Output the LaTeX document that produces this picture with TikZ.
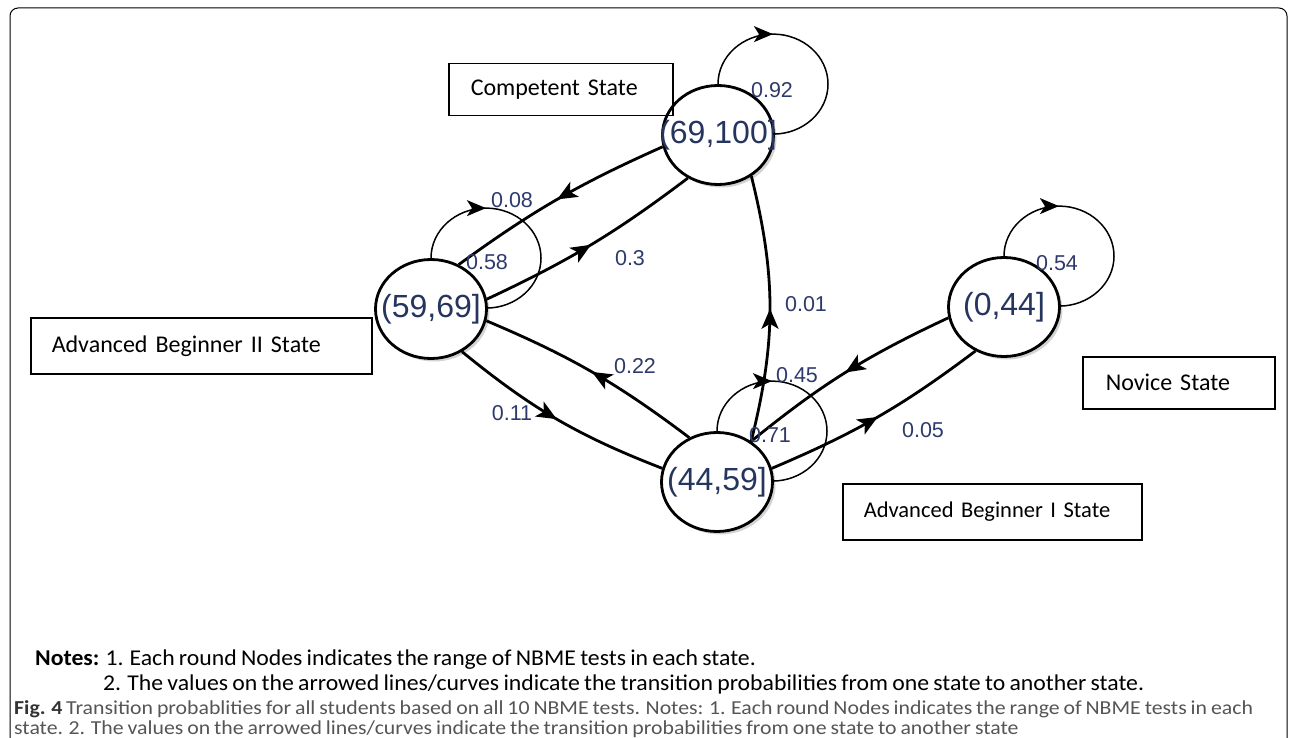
\documentclass[tikz,border=0pt]{standalone}
\usepackage{fontspec}
\setmainfont{Carlito}[WordSpace=0.8]
\newfontfamily\capfont{Carlito}[FakeStretch=1.1, WordSpace=0.8]
\newfontfamily\notefont{Carlito}[FakeStretch=1.05, WordSpace=0.8]
\newfontfamily\arialf{Liberation Sans}
\usetikzlibrary{arrows.meta,decorations.markings,shapes.geometric,shadows}
\definecolor{numblue}{HTML}{25355E}
\definecolor{lblblue}{HTML}{2E3A6C}
\definecolor{capgray}{HTML}{555555}
\begin{document}
\begin{tikzpicture}[x=1pt,y=1pt,
  statenode/.style={ellipse, draw=black, line width=2.8pt, fill=white, inner sep=0pt,
    minimum width=111pt, minimum height=99pt,
    font=\arialf\fontsize{32}{32}\selectfont, text=numblue,
    drop shadow={shadow xshift=3pt, shadow yshift=-3pt, opacity=0.35, fill=gray}},
  statebox/.style={rectangle, draw=black, line width=1.5pt, align=left, anchor=north west,
    inner ysep=0pt, font=\fontsize{24}{28}\selectfont},
  elabel/.style={font=\arialf\fontsize{21.5}{21.5}\selectfont, text=lblblue, inner sep=0pt},
  edgeline/.style={line width=2.8pt, postaction={decorate},
    decoration={markings, mark=at position 0.5 with {\arrow{Stealth[length=20pt,width=17pt,inset=5pt]}}}},
  loopline/.style={line width=1.5pt, postaction={decorate},
    decoration={markings, mark=at position 0.333 with {\arrow{Stealth[length=19pt,width=16pt,inset=5pt]}}}},
  notetext/.style={anchor=base west, inner sep=0pt, font=\notefont\fontsize{22.6}{22.6}\selectfont},
  captext/.style={anchor=base west, inner sep=0pt, text=capgray, font=\capfont\fontsize{19.8}{19.8}\selectfont}
]
\useasboundingbox (0,0) rectangle (1290,-738);
\draw[line width=1pt, rounded corners=8pt] (10,-745) -- (10,-8) -- (1287,-8) -- (1287,-745);

% state nodes
\node[statenode] (c)  at (718,-135) {\makebox[0pt]{(69,100]}};
\node[statenode] (a2) at (431,-309) {\makebox[0pt]{(59,69]}};
\node[statenode] (a1) at (717,-482) {\makebox[0pt]{(44,59]}};
\node[statenode] (nv) at (1004,-307) {\makebox[0pt]{(0,44]}};

% self loops
\draw[loopline] (c.north)  arc[start angle=180, end angle=-90, x radius=55, y radius=50];
\draw[loopline] (a2.north) arc[start angle=180, end angle=-90, x radius=55, y radius=50];
\draw[loopline] (a1.north) arc[start angle=180, end angle=-90, x radius=55, y radius=50];
\draw[loopline] (nv.north) arc[start angle=180, end angle=-90, x radius=55, y radius=50];

% transitions
\draw[edgeline] (c.192)  to[bend right=6]  (a2.58);
\draw[edgeline] (a2.10)  to[bend right=6]  (c.235);
\draw[edgeline] (a1.50)  to[bend right=14] (c.309);
\draw[edgeline] (a1.122) to[bend right=7]  (a2.348);
\draw[edgeline] (a2.306) to[bend right=9]  (a1.166);
\draw[edgeline] (nv.191) to[bend right=7]  (a1.50);
\draw[edgeline] (a1.14)  to[bend right=7]  (nv.237);

% edge labels
\node[elabel] (l092) at (772,-90)  {0.92};
\node[elabel] (l008) at (512,-200) {0.08};
\node[elabel] (l058) at (487,-262) {0.58};
\node[elabel] (l03)  at (630,-258) {0.3};
\node[elabel] (l001) at (806,-304) {0.01};
\node[elabel] (l022) at (635,-366) {0.22};
\node[elabel] (l011) at (512,-413) {0.11};
\node[elabel] (l045) at (797,-375) {0.45};
\node[elabel] (l071) at (770,-435) {0.71};
\node[elabel] (l005) at (923,-430) {0.05};
\node[elabel] (l054) at (1057,-263) {0.54};

% state name boxes
\node[statebox, text width=180pt, inner xsep=22pt, minimum height=52pt] (bc) at (448,-63) {Competent State};
\node[statebox, text width=299pt, inner xsep=21pt, minimum height=56pt] (bb2) at (30,-317) {Advanced Beginner II State};
\node[statebox, text width=146pt, inner xsep=23pt, minimum height=52pt] (bnv) at (1082,-356) {Novice State};
\node[statebox, text width=257pt, inner xsep=21pt, minimum height=56pt, font=\fontsize{22.5}{26}\selectfont] (bb1) at (842,-483) {Advanced Beginner I State};

% notes
\node[notetext] (n1) at (35,-665) {\textbf{Notes:} 1. Each round Nodes indicates the range of NBME tests in each state.};
\node[notetext] (n2) at (103,-690) {2. The values on the arrowed lines/curves indicate the transition probabilities from one state to another state.};

% caption
\node[captext] (cap1) at (14,-714) {\textbf{\color{black!80}Fig. 4} Transition probablities for all students based on all 10 NBME tests. Notes: 1. Each round Nodes indicates the range of NBME tests in each};
\node[captext] (cap2) at (14,-734) {state. 2. The values on the arrowed lines/curves indicate the transition probabilities from one state to another state};
\end{tikzpicture}
\end{document}
